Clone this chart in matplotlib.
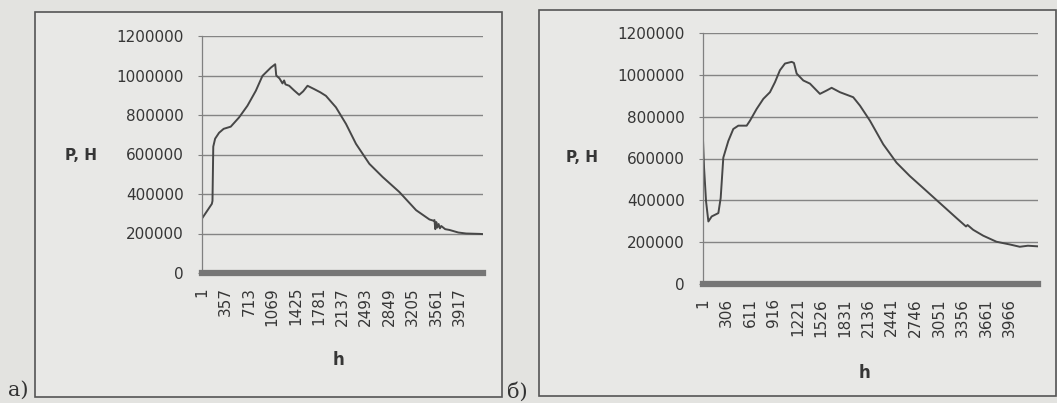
import matplotlib
matplotlib.use('Agg')
import matplotlib.pyplot as plt
from matplotlib.patches import Rectangle

# chart a) - load P (N) against step h
h_a = [1, 150, 160, 172, 200, 260, 330, 438, 565, 692, 820, 920, 1048, 1114,
       1130, 1180, 1225, 1250, 1270, 1327, 1400, 1479, 1540, 1606, 1708, 1800,
       1886, 2038, 2191, 2343, 2546, 2749, 3003, 3258, 3461, 3520, 3537, 3550,
       3565, 3580, 3600, 3620, 3640, 3700, 3765, 3900, 4019, 4222, 4275]
p_a = [276000, 350000, 365000, 640000, 680000, 710000, 730000, 741000, 788000,
       847000, 923000, 998000, 1040000, 1057000, 1000000, 985000, 960000,
       975000, 955000, 948000, 925000, 902000, 920000, 948000, 931000, 915000,
       897000, 839000, 755000, 654000, 553000, 486000, 410000, 318000, 271000,
       265000, 268000, 222000, 258000, 230000, 248000, 226000, 238000, 222000,
       218000, 205000, 200000, 198000, 197000]
n_a = 4275
xlabels_a = [1, 357, 713, 1069, 1425, 1781, 2137, 2493, 2849, 3205, 3561, 3917]

# chart б)
h_b = [1, 14, 40, 70, 113, 199, 229, 263, 328, 392, 457, 565, 608, 694, 780,
       866, 931, 995, 1060, 1146, 1176, 1211, 1297, 1383, 1512, 1598, 1663,
       1770, 1942, 2029, 2158, 2330, 2502, 2674, 2846, 3062, 3278, 3400, 3420,
       3493, 3622, 3794, 3966, 4095, 4200, 4330]
p_b = [684000, 556000, 395000, 299000, 323000, 339000, 411000, 604000, 684000,
       741000, 757000, 757000, 781000, 837000, 885000, 917000, 965000, 1022000,
       1054000, 1062000, 1057000, 1006000, 973000, 958000, 909000, 925000,
       938000, 917000, 893000, 853000, 781000, 668000, 580000, 516000, 459000,
       387000, 315000, 275000, 282000, 259000, 231000, 202000, 189000, 178000,
       183000, 180000]
n_b = 4330
xlabels_b = [1, 306, 611, 916, 1221, 1526, 1831, 2136, 2441, 2746, 3051, 3356,
             3661, 3966]

y_ticks = [0, 200000, 400000, 600000, 800000, 1000000, 1200000]

W, H = 1057, 403
fig = plt.figure(figsize=(W / 100, H / 100), dpi=100)
fig.patch.set_facecolor('#e3e3e0')
txt = '#363636'


def fx(px):
    return px / W


def fy(py):
    return 1 - py / H


def box(x0, y0, x1, y1):
    fig.patches.append(Rectangle((fx(x0), fy(y1)), (x1 - x0) / W, (y1 - y0) / H,
                                 transform=fig.transFigure, facecolor='#e8e8e6',
                                 edgecolor='#555555', lw=1.2, zorder=-10))


def panel(x0, x1, y0, y1, h, p, n, xlabels):
    ax = fig.add_axes([fx(x0), fy(y1), (x1 - x0) / W, (y1 - y0) / H])
    ax.set_zorder(5)
    ax.set_facecolor('none')
    ax.plot(h, p, color='#474747', lw=1.4)
    ax.set_xlim(0.5, n + 0.5)
    ax.set_ylim(0, 1200000)
    ax.set_yticks(y_ticks)
    ax.set_yticklabels([str(v) for v in y_ticks])
    ax.set_xticks(xlabels)
    ax.set_xticklabels([str(v) for v in xlabels], rotation=90)
    ax.yaxis.grid(True, color='#848484', lw=1.0)
    ax.set_axisbelow(True)
    for s in ['top', 'right']:
        ax.spines[s].set_visible(False)
    ax.spines['left'].set_color('#808080')
    ax.spines['left'].set_linewidth(0.9)
    ax.spines['bottom'].set_color('#767676')
    ax.spines['bottom'].set_linewidth(4.5)
    ax.tick_params(axis='y', length=3, color='#808080', pad=10,
                   labelsize=11, labelcolor=txt)
    ax.tick_params(axis='x', length=0, pad=10, labelsize=11, labelcolor=txt)
    return ax


box(35, 12, 502, 397)
box(539, 10, 1056, 396)

panel(202, 483, 36, 273, h_a, p_a, n_a, xlabels_a)
panel(703, 1038, 33, 284, h_b, p_b, n_b, xlabels_b)

fig.text(fx(81), fy(155), 'P, H', fontsize=11, fontweight='bold', color=txt,
         ha='center', va='center')
fig.text(fx(582), fy(157), 'P, H', fontsize=11, fontweight='bold', color=txt,
         ha='center', va='center')
fig.text(fx(338), fy(360), 'h', fontsize=12, fontweight='bold', color=txt,
         ha='center', va='center')
fig.text(fx(864), fy(373), 'h', fontsize=12, fontweight='bold', color=txt,
         ha='center', va='center')

fig.text(fx(18), fy(390), 'а)', fontsize=15, family='DejaVu Serif', color='#333333',
         ha='center', va='center')
fig.text(fx(517), fy(392), 'б)', fontsize=15, family='DejaVu Serif', color='#333333',
         ha='center', va='center')

fig.savefig('out.png', dpi=100, facecolor=fig.get_facecolor())
